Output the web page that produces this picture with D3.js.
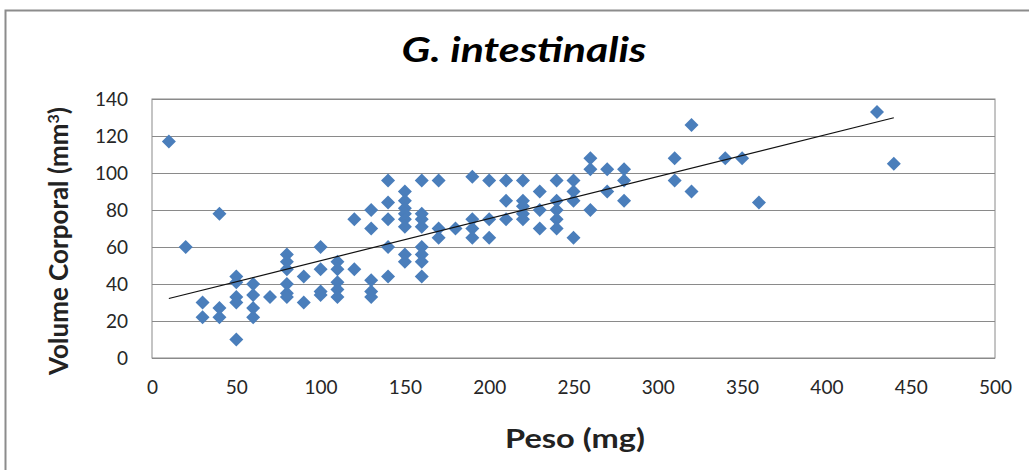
<!DOCTYPE html>
<html>
<head>
<meta charset="utf-8">
<script src="https://cdn.jsdelivr.net/npm/d3@7"></script>
<style>
  body { margin: 0; background: #fff; }
  text { font-family: Lato, "Open Sans", sans-serif; }
</style>
</head>
<body>
<svg id="chart"></svg>
<script>
// peso (mg) and volume corporal (mm3)
var peso = [
  10, 20, 30, 30, 40, 40, 40,
  50, 50, 50, 50, 50, 60, 60, 60, 60, 70,
  80, 80, 80, 80, 80, 80, 90, 90,
  100, 100, 100, 100, 110, 110, 110, 110, 110,
  120, 120, 130, 130, 130, 130, 130,
  140, 140, 140, 140, 140,
  150, 150, 150, 150, 150, 150, 150, 150,
  160, 160, 160, 160, 160, 160, 160, 160,
  170, 170, 170, 180, 190, 190, 190, 190,
  200, 200, 200, 210, 210, 210,
  220, 220, 220, 220, 220, 230, 230, 230,
  240, 240, 240, 240, 240, 250, 250, 250, 250,
  260, 260, 260, 270, 270, 280, 280, 280,
  310, 310, 320, 320, 340, 350, 360, 430, 440
];
var volume = [
  117, 60, 30, 22, 78, 27, 22,
  44, 41, 33, 30, 10, 40, 34, 27, 22, 33,
  56, 52, 48, 40, 35, 33, 44, 30,
  60, 48, 36, 34, 52, 48, 41, 37, 33,
  75, 48, 80, 70, 42, 36, 33,
  96, 84, 75, 60, 44,
  90, 85, 81, 78, 75, 71, 56, 52,
  96, 78, 75, 71, 60, 56, 52, 44,
  96, 70, 65, 70, 98, 75, 70, 65,
  96, 75, 65, 96, 85, 75,
  96, 85, 82, 78, 75, 90, 80, 70,
  96, 85, 80, 75, 70, 96, 90, 85, 65,
  108, 102, 80, 102, 90, 102, 96, 85,
  108, 96, 126, 90, 108, 108, 84, 133, 105
];
var xTicks = [0, 50, 100, 150, 200, 250, 300, 350, 400, 450, 500];
var yTicks = [0, 20, 40, 60, 80, 100, 120, 140];

var svg = d3.select("#chart")
  .attr("width", 1029)
  .attr("height", 470);

// outer chart frame
svg.append("rect")
  .attr("x", 5.5).attr("y", 10.5)
  .attr("width", 1040).attr("height", 480)
  .attr("fill", "none")
  .attr("stroke", "#8c8c8c")
  .attr("stroke-width", 2);

var margin = {top: 99, right: 34, bottom: 112, left: 152},
  width = 1029 - margin.left - margin.right,
  height = 470 - margin.top - margin.bottom;

var g = svg.append("g")
  .attr("transform", "translate(" + margin.left + "," + margin.top + ")");

var x = d3.scaleLinear().domain([0, 500]).range([0, width]);
var y = d3.scaleLinear().domain([0, 140]).range([height, 0]);

// horizontal gridlines
g.append("g")
  .attr("class", "grid")
  .call(d3.axisLeft(y).tickValues(yTicks).tickSize(-width).tickFormat(""))
  .call(s => s.select(".domain").remove())
  .selectAll("line")
  .attr("stroke", "#8a8a8a");

// plot area border
g.append("rect")
  .attr("width", width).attr("height", height)
  .attr("fill", "none")
  .attr("stroke", "#8a8a8a");

// y axis labels
g.append("g")
  .call(d3.axisLeft(y).tickValues(yTicks).tickSize(0).tickPadding(24))
  .call(s => s.select(".domain").remove())
  .selectAll("text")
  .attr("font-size", "19px")
  .attr("fill", "#262626");

// x axis labels
g.append("g")
  .attr("transform", "translate(0," + height + ")")
  .call(d3.axisBottom(x).tickValues(xTicks).tickSize(0).tickPadding(23))
  .call(s => s.select(".domain").remove())
  .selectAll("text")
  .attr("font-size", "19px")
  .attr("fill", "#262626");

// points
var pts = peso.map((p, i) => [p, volume[i]]);
var diamond = d3.symbol().type(d3.symbolDiamond2).size(125);
g.selectAll("path.pt")
  .data(pts)
  .enter()
  .append("path")
  .attr("class", "pt")
  .attr("d", diamond)
  .attr("transform", d => "translate(" + x(d[0]) + "," + y(d[1]) + ")")
  .attr("fill", "#4a7ebb");

// linear trend line (least squares)
var mx = d3.mean(peso), my = d3.mean(volume);
var sxy = d3.sum(peso, (p, i) => (p - mx) * (volume[i] - my));
var sxx = d3.sum(peso, p => (p - mx) * (p - mx));
var slope = sxy / sxx, icpt = my - slope * mx;
var xr = d3.extent(peso);
g.append("line")
  .attr("x1", x(xr[0])).attr("y1", y(icpt + slope * xr[0]))
  .attr("x2", x(xr[1])).attr("y2", y(icpt + slope * xr[1]))
  .attr("stroke", "#111")
  .attr("stroke-width", 1.2);

// titles
svg.append("text")
  .attr("x", 524).attr("y", 62)
  .attr("text-anchor", "middle")
  .attr("font-size", "35px")
  .attr("font-style", "italic")
  .attr("font-weight", "bold")
  .attr("textLength", 245)
  .attr("lengthAdjust", "spacingAndGlyphs")
  .text("G. intestinalis");

svg.append("text")
  .attr("x", 575).attr("y", 448)
  .attr("text-anchor", "middle")
  .attr("font-size", "26px")
  .attr("font-weight", "bold")
  .attr("fill", "#222")
  .attr("textLength", 140)
  .attr("lengthAdjust", "spacingAndGlyphs")
  .text("Peso (mg)");

var yt = svg.append("text")
  .attr("transform", "translate(68,241) rotate(-90)")
  .attr("text-anchor", "middle")
  .attr("font-size", "26px")
  .attr("font-weight", "bold")
  .attr("fill", "#222");
yt.append("tspan").text("Volume Corporal (mm");
yt.append("tspan").attr("baseline-shift", "super").attr("font-size", "16px").text("3");
yt.append("tspan").text(")");
</script>
</body>
</html>
